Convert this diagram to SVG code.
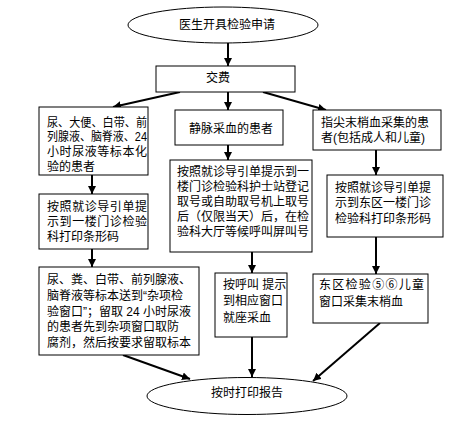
<svg xmlns="http://www.w3.org/2000/svg" width="451" height="421" viewBox="0 0 451 421">
<style>
.b{fill:#fff;stroke:#000;stroke-width:1}
.t{font-family:"Liberation Sans","Noto Sans CJK SC",sans-serif;font-size:12px;fill:#000}
.c{text-anchor:middle}
.l{stroke:#000;stroke-width:2;fill:none;marker-end:url(#a)}
</style>
<defs>
<marker id="a" markerUnits="userSpaceOnUse" markerWidth="9" markerHeight="8" refX="8" refY="4" orient="auto">
<path d="M0,0 L8,4 L0,8 z" fill="#000"/>
</marker>
</defs>
<rect width="451" height="421" fill="#fff"/>
<g id="connectors">
<line class="l" x1="228" y1="43" x2="228" y2="66"/>
<line class="l" x1="180" y1="92" x2="113" y2="107"/>
<line class="l" x1="228" y1="92" x2="228" y2="110"/>
<line class="l" x1="263" y1="92" x2="326" y2="110"/>
<line class="l" x1="92" y1="175" x2="92" y2="194"/>
<line class="l" x1="92" y1="249" x2="92" y2="267"/>
<line class="l" x1="123" y1="355" x2="190" y2="379"/>
<line class="l" x1="228" y1="145" x2="228" y2="160"/>
<line class="l" x1="252" y1="252" x2="252" y2="273"/>
<line class="l" x1="252" y1="337" x2="252" y2="377"/>
<line class="l" x1="376" y1="150" x2="376" y2="175"/>
<line class="l" x1="376" y1="237" x2="376" y2="274"/>
<line class="l" x1="380" y1="323" x2="313" y2="381"/>
</g>
<g id="start">
<ellipse class="b" cx="223" cy="25" rx="95" ry="18"/>
<text class="t c" x="227" y="29">医生开具检验申请</text>
</g>
<g id="pay">
<rect class="b" x="156" y="66" width="139" height="26"/>
<text class="t c" x="218" y="82">交费</text>
</g>
<g id="left1">
<rect class="b" x="39" y="107" width="109" height="68"/>
<text class="t" x="47" y="127" textLength="100" lengthAdjust="spacingAndGlyphs">尿、大便、白带、前</text>
<text class="t" x="47" y="141" textLength="100" lengthAdjust="spacingAndGlyphs">列腺液、脑脊液、24</text>
<text class="t" x="47" y="156" textLength="100">小时尿液等标本化</text>
<text class="t" x="47" y="171">验的患者</text>
</g>
<g id="left2">
<rect class="b" x="39" y="194" width="109" height="55"/>
<text class="t" x="47" y="211" textLength="100">按照就诊导引单提</text>
<text class="t" x="47" y="226" textLength="100">示到一楼门诊检验</text>
<text class="t" x="47" y="241">科打印条形码</text>
</g>
<g id="left3">
<rect class="b" x="39" y="267" width="160" height="88"/>
<text class="t" x="47" y="284">尿、粪、白带、前列腺液、</text>
<text class="t" x="47" y="300">脑脊液等标本送到“杂项检</text>
<text class="t" x="47" y="315.5">验窗口”；留取 24 小时尿液</text>
<text class="t" x="47" y="331">的患者先到杂项窗口取防</text>
<text class="t" x="47" y="347">腐剂，然后按要求留取标本</text>
</g>
<g id="mid1">
<rect class="b" x="175" y="110" width="108" height="35"/>
<text class="t c" x="231" y="133">静脉采血的患者</text>
</g>
<g id="mid2">
<rect class="b" x="170" y="160" width="142" height="92"/>
<text class="t" x="177" y="176">按照就诊导引单提示到一</text>
<text class="t" x="177" y="191">楼门诊检验科护士站登记</text>
<text class="t" x="177" y="206">取号或自助取号机上取号</text>
<text class="t" x="177" y="221">后（仅限当天）后，在检</text>
<text class="t" x="177" y="236">验科大厅等候呼叫屏叫号</text>
</g>
<g id="mid3">
<rect class="b" x="215" y="273" width="72" height="64"/>
<text class="t" x="223" y="289">按呼叫 提示</text>
<text class="t" x="223" y="305">到相应窗口</text>
<text class="t" x="223" y="322">就座采血</text>
</g>
<g id="right1">
<rect class="b" x="313" y="110" width="128" height="40"/>
<text class="t" x="321" y="127">指尖末梢血采集的患</text>
<text class="t" x="321" y="142">者(包括成人和儿童)</text>
</g>
<g id="right2">
<rect class="b" x="327" y="175" width="116" height="62"/>
<text class="t" x="335" y="192">按照就诊导引单提</text>
<text class="t" x="335" y="207">示到东区一楼门诊</text>
<text class="t" x="335" y="223">检验科打印条形码</text>
</g>
<g id="right3">
<rect class="b" x="313" y="274" width="115" height="49"/>
<text class="t" x="319" y="289" textLength="105">东区检验⑤⑥儿童</text>
<text class="t" x="319" y="306">窗口采集末梢血</text>
</g>
<g id="end">
<ellipse class="b" cx="247" cy="396" rx="100" ry="18.5"/>
<text class="t c" x="247" y="397">按时打印报告</text>
</g>
</svg>
